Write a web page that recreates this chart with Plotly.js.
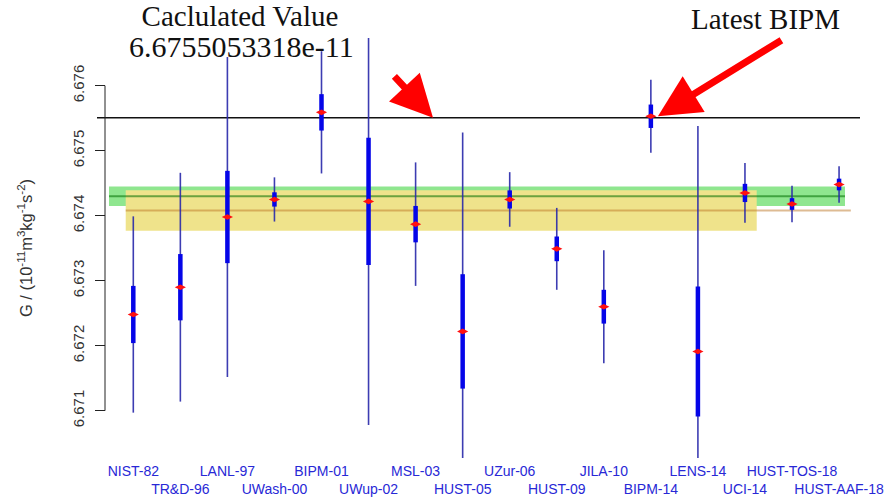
<!DOCTYPE html>
<html>
<head>
<meta charset="utf-8">
<script src="https://cdn.plot.ly/plotly-3.0.1.min.js"></script>
<style>html,body{margin:0;padding:0;background:#fff;}#chart{width:890px;height:501px;}</style>
</head>
<body>
<div id="chart"></div>
<script>
// ---- data ----
const labels = ["NIST-82","TR&D-96","LANL-97","UWash-00","BIPM-01","UWup-02","MSL-03","HUST-05",
                "UZur-06","HUST-09","JILA-10","BIPM-14","LENS-14","UCI-14","HUST-TOS-18","HUST-AAF-18"];
const values   = [6.67248,6.67290,6.67398,6.67425,6.67559,6.67422,6.67387,6.67222,
                  6.67425,6.67349,6.67260,6.67553,6.67191,6.67435,6.67418,6.67448];
const thickErr = [0.00044,0.00051,0.00071,0.00011,0.00028,0.00098,0.00028,0.00088,
                  0.00014,0.00019,0.00026,0.00018,0.00100,0.00014,0.00009,0.00009];
const thinErr  = [0.00151,0.00176,0.00246,0.00034,0.00094,0.00344,0.00095,0.00306,
                  0.00042,0.00063,0.00087,0.00056,0.00347,0.00046,0.00028,0.00028];
const calcValue = 6.6755053318;           // x 1e-11
const codata2014 = 6.67408, codata2014Unc = 0.00031;
const codata2018 = 6.67430, codata2018Unc = 0.00015;
const yTicks = [6.671, 6.672, 6.673, 6.674, 6.675, 6.676];
const yTickText = ["6.671","6.672","6.673","6.674","6.675","6.676"];

// ---- build ----
const xs = labels.map((_, i) => i + 1);
function segs(err) {
  const X = [], Y = [];
  xs.forEach((x, i) => { X.push(x, x, null); Y.push(values[i] - err[i], values[i] + err[i], null); });
  return {X, Y};
}
const thin = segs(thinErr), thick = segs(thickErr);
const tickText = labels.map((l, i) => (i % 2 === 0 ? l : "<br>" + l));

const traces = [
  {type:'scatter', mode:'lines', x: thin.X, y: thin.Y, line:{color:'rgba(40,40,170,0.9)', width:1.6}, hoverinfo:'skip'},
  {type:'scatter', mode:'lines', x: thick.X, y: thick.Y, line:{color:'#0505e8', width:4.5}, hoverinfo:'skip'},
  {type:'scatter', mode:'markers', x: xs, y: values, marker:{symbol:'diamond-wide', size:8, color:'#ff1010'}}
];

const axLineX = 0.0105;
const shapes = [
  {type:'rect', xref:'x', yref:'y', x0:0.4835, x1:16.126, y0:codata2018 - codata2018Unc, y1:codata2018 + codata2018Unc,
   fillcolor:'#8fe68f', line:{width:0}, layer:'below'},
  {type:'rect', xref:'x', yref:'y', x0:0.839, x1:14.25, y0:codata2014 - codata2014Unc, y1:codata2014 + codata2014Unc,
   fillcolor:'#efe38b', line:{width:0}, layer:'below'},
  {type:'line', xref:'x', yref:'y', x0:0.4835, x1:16.126, y0:codata2018, y1:codata2018,
   line:{color:'rgba(0,110,0,0.55)', width:2}, layer:'below'},
  {type:'line', xref:'x', yref:'y', x0:0.839, x1:16.25, y0:codata2014, y1:codata2014,
   line:{color:'rgba(190,120,40,0.5)', width:2}, layer:'below'},
  {type:'line', xref:'paper', yref:'y', x0:0, x1:1, y0:calcValue, y1:calcValue,
   line:{color:'#111', width:1.5}, layer:'below'},
  {type:'line', xref:'paper', yref:'y', x0:axLineX, x1:axLineX, y0:yTicks[0], y1:yTicks[yTicks.length-1],
   line:{color:'#222', width:1}}
];

const serif = 'Liberation Serif, Times New Roman, serif';
const annotations = [
  {xref:'paper', yref:'paper', x:(241-97)/763, y:(458-46.6)/420, text: calcValue + 'e-11', showarrow:false,
   xanchor:'center', yanchor:'middle', font:{family:serif, size:30, color:'#111'}},
  {xref:'paper', yref:'paper', x:(765-97)/763, y:(458-19)/420, text:'Latest BIPM', showarrow:false,
   xanchor:'center', yanchor:'middle', font:{family:serif, size:29, color:'#111'}},
  {xref:'x', yref:'y', x:7.37, y:calcValue, ax:-40, ay:-43, text:'', showarrow:true,
   arrowhead:2, arrowsize:1.2, arrowwidth:7, arrowcolor:'#ff0000', standoff:0},
  {xref:'x', yref:'y', x:12.15, y:values[11], ax:125, ay:-77, text:'', showarrow:true,
   arrowhead:2, arrowsize:1.2, arrowwidth:7, arrowcolor:'#ff0000', standoff:0}
];

const layout = {
  width:890, height:501,
  margin:{l:97, r:30, t:38, b:43, pad:0},
  paper_bgcolor:'#fff', plot_bgcolor:'#fff',
  showlegend:false,
  title:{text:'Caclulated Value', x:240/890, xref:'container', xanchor:'center',
         y:1 - 15.5/501, yref:'container', yanchor:'middle', font:{family:serif, size:29, color:'#111'}},
  xaxis:{range:[0.2285, 16.445], showgrid:false, zeroline:false, showline:false, ticks:'',
         tickvals: xs, ticktext: tickText, tickangle:0, ticklabelstandoff:3,
         tickfont:{family:'Liberation Sans, Arial, sans-serif', size:14, color:'#2828d6'}},
  yaxis:{range:[6.6702723, 6.6767338], anchor:'free', position:axLineX, showgrid:false, zeroline:false, showline:false,
         ticks:'outside', ticklen:10, tickwidth:1, tickcolor:'#222', tickvals:yTicks, ticktext:yTickText, tickangle:-90,
         ticklabelstandoff:5,
         tickfont:{family:'Liberation Sans, Arial, sans-serif', size:15, color:'#333'},
         title:{text:'G / (10<sup>-11</sup>m<sup>3</sup>kg<sup>-1</sup>s<sup>-2</sup>)', standoff:32,
                font:{family:'Liberation Sans, Arial, sans-serif', size:16.5, color:'#333'}}},
  shapes: shapes,
  annotations: annotations
};

Plotly.newPlot('chart', traces, layout, {staticPlot:true});
</script>
</body>
</html>
